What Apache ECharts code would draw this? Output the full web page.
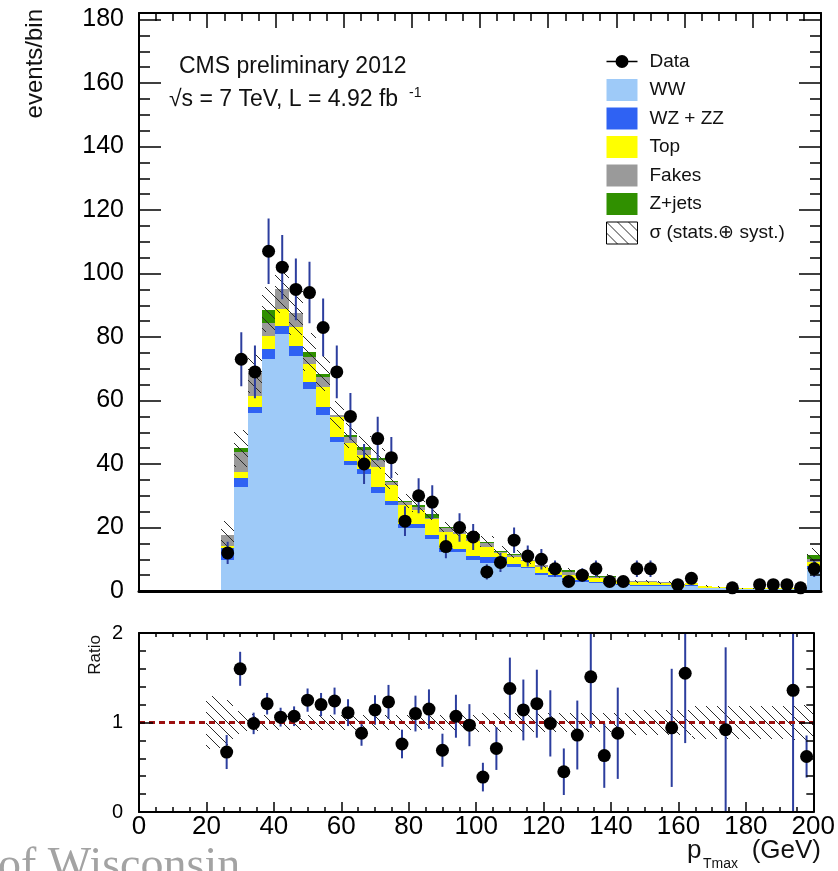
<!DOCTYPE html>
<html>
<head>
<meta charset="utf-8">
<script src="https://cdn.jsdelivr.net/npm/echarts@6/dist/echarts.min.js"></script>
<style>
html,body{margin:0;padding:0;background:#fff;}
#chart{width:838px;height:871px;}
</style>
</head>
<body>
<div id="chart"></div>
<script>
// ---------------- data ----------------
const binCenters = [2,6,10,14,18,22,26,30,34,38,42,46,50,54,58,62,66,70,74,78,82,86,90,94,98,102,106,110,114,118,122,126,130,134,138,142,146,150,154,158,162,166,170,174,178,182,186,190,194,198];
const binWidth = 4;

const ww    = [0,0,0,0,0,0, 9.8,32.7,56.0,73.2,81.1,74.1,63.7,55.5,46.9,39.7,36.9,31.0,27.1,19.8,19.8,16.4,12.4,12.2,9.8,8.8,9.8,7.5,7.2,5.0,4.5,3.5,2.9,2.6,2.2,2.0,1.6,1.5,1.5,1.2,1.5,0.9,0.8,0.7,0.6,0.6,0.5,0.5,0.5,7.0];
const wzzz  = [0,0,0,0,0,0, 3.7,2.8,2.1,3.0,2.3,3.0,2.0,2.6,1.5,1.4,1.6,1.9,1.1,1.2,1.2,1.3,1.1,0.9,1.3,2.0,1.0,1.0,0.5,0.8,0.5,0.5,0.6,0.3,0.4,0.3,0.3,0.4,0.3,0.2,0.3,0.2,0.1,0.1,0.1,0.1,0.1,0.1,0.05,0.9];
const topq  = [0,0,0,0,0,0, 0.7,1.9,3.4,4.0,5.5,6.1,5.9,6.3,6.4,5.5,4.4,6.3,5.2,6.1,4.6,4.9,5.2,4.9,4.5,3.2,1.1,2.3,1.9,1.9,1.1,1.0,1.3,1.1,1.3,0.8,1.0,1.0,0.8,0.6,0.6,0.4,0.3,0.2,0.2,0.2,0.2,0.2,0.2,1.3];
const fakes = [0,0,0,0,0,0, 3.5,6.5,7.2,4.2,6.3,4.4,2.1,3.0,0.7,1.8,1.4,2.0,0.8,0.8,1.0,0.4,1.1,0.7,1.2,1.2,0.5,0.6,0.1,0.5,0.5,1.1,0.8,0.5,0.6,0.3,0.2,0.1,0.1,0.1,0.2,0.1,0.1,0.1,0,0,0,0,0,1.0];
const zjets = [0,0,0,0,0,0, 0,1.1,0,4.2,0,0,1.5,1.1,0,0.6,0.9,0.6,0.6,0.5,0.5,1.3,0.4,0,0.7,0.3,0.3,0.2,0,0.1,0.5,0.5,0.2,0.1,0.2,0,0,0,0,0,0,0,0,0,0,0,0,0,0,1.0];

const dataCounts = [null,null,null,null,null,null, 12,73,69,107,102,95,94,83,69,55,40,48,42,22,30,28,14,20,17,6,9,16,11,10,7,3,5,7,3,3,7,7,null,2,4,null,null,1,null,2,2,2,1,7];
const dataErr    = [null,null,null,null,null,null, 3.5,8.5,8.3,10.3,10.1,9.7,9.7,9.1,8.3,7.4,6.3,6.9,6.5,4.7,5.5,5.3,3.7,4.5,4.1,2.4,3.0,4.0,3.3,3.2,2.6,1.7,2.2,2.6,1.7,1.7,2.6,2.6,null,1.4,2.0,null,null,1.0,null,1.4,1.4,1.4,1.0,2.6];

const ratioVals = [null,null,null,null,null,null, 0.67,1.60,0.99,1.21,1.06,1.07,1.25,1.20,1.24,1.11,0.88,1.14,1.23,0.76,1.10,1.15,0.69,1.07,0.97,0.39,0.71,1.38,1.14,1.21,0.99,0.45,0.86,1.51,0.63,0.88,null,null,null,0.94,1.55,null,null,0.92,null,null,null,null,1.36,0.62];
const ratioErr  = [null,null,null,null,null,null, 0.19,0.19,0.12,0.12,0.105,0.11,0.13,0.13,0.15,0.15,0.14,0.165,0.19,0.16,0.20,0.22,0.185,0.24,0.235,0.16,0.24,0.345,0.34,0.38,0.37,0.26,0.385,0.57,0.36,0.51,null,null,null,0.66,0.78,null,null,0.92,null,null,null,null,1.36,0.235];

// relative MC uncertainty (half width of hatched band)
const relUnc = [null,null,null,null,null, 0.30, 0.25,0.13,0.09,0.08,0.08,0.08,0.08,0.08,0.08,0.08,0.08,0.08,0.08,0.08,0.08,0.08,0.08,0.08,0.08, 0.11,0.11,0.11,0.11,0.11,0.11,0.11,0.11,0.11,0.11,0.11, 0.14,0.14,0.14,0.14,0.14, 0.18,0.18,0.18,0.18,0.18,0.18,0.18, 0.20,0.20];

const yTicksMain = [0,20,40,60,80,100,120,140,160,180];
const yTicksRatio = [0,1,2];
const xTicks = [0,20,40,60,80,100,120,140,160,180,200];

// ---------------- styling ----------------
const FONT = 'Liberation Sans, Arial, Helvetica, sans-serif';
const ERR_BLUE = '#2c3e9e';
const comps = [
  {name:'WW',      vals: ww,    color:'#9ecaf8'},
  {name:'WZ + ZZ', vals: wzzz,  color:'#2f62f3'},
  {name:'Top',     vals: topq,  color:'#ffff00'},
  {name:'Fakes',   vals: fakes, color:'#9a9a9a'},
  {name:'Z+jets',  vals: zjets, color:'#309000'}
];
const BAND_NAME = 'σ (stats.⊕ syst.)';

function makeHatch() {
  const s = 11;
  const c = document.createElement('canvas');
  c.width = s; c.height = s;
  const g = c.getContext('2d');
  g.strokeStyle = '#2a2a2a';
  g.lineWidth = 1;
  g.beginPath();
  [-s, 0, s].forEach(k => { g.moveTo(0, k); g.lineTo(s, s + k); });
  g.stroke();
  return c;
}
const hatch = {image: makeHatch(), repeat: 'repeat'};

function rectRender(fill) {
  return function (params, api) {
    const p0 = api.coord([api.value(0), api.value(2)]);
    const p1 = api.coord([api.value(1), api.value(3)]);
    const x0 = Math.round(p0[0]), x1 = Math.round(p1[0]);
    const yb = Math.round(p0[1]), yt = Math.round(p1[1]);
    return {type:'rect', shape:{x:x0, y:yt, width:x1 - x0, height:yb - yt}, style:{fill: fill}};
  };
}
function errRender(params, api) {
  const x = api.value(0), y = api.value(1), e = api.value(2);
  const a = api.coord([x, y - e]);
  const b = api.coord([x, y + e]);
  return {type:'line', shape:{x1:a[0], y1:a[1], x2:b[0], y2:b[1]}, style:{stroke: ERR_BLUE, lineWidth: 2}};
}

// stacked histogram
const base = binCenters.map(() => 0);
const stackSeries = comps.map(c => {
  const d = [];
  binCenters.forEach((x, i) => {
    const v = c.vals[i];
    if (v > 0) d.push([x - binWidth / 2, x + binWidth / 2, base[i], base[i] + v]);
    base[i] += v;
  });
  return {type:'custom', name:c.name, xAxisIndex:0, yAxisIndex:0, data:d, renderItem: rectRender(c.color),
          itemStyle:{color:c.color}, clip:true, z:2, silent:true};
});
const total = base;

const bandMain = [];
const bandRatio = [];
binCenters.forEach((x, i) => {
  const r = relUnc[i];
  if (r == null) return;
  bandRatio.push([x - binWidth / 2, x + binWidth / 2, 1 - r, 1 + r]);
  if (total[i] > 0) bandMain.push([x - binWidth / 2, x + binWidth / 2, total[i] * (1 - r), total[i] * (1 + r)]);
});

const dataPts = [], dataErrPts = [], ratioPts = [], ratioErrPts = [];
binCenters.forEach((x, i) => {
  if (dataCounts[i] != null) { dataPts.push([x, dataCounts[i]]); dataErrPts.push([x, dataCounts[i], dataErr[i]]); }
  if (ratioVals[i] != null) { ratioPts.push([x, ratioVals[i]]); ratioErrPts.push([x, ratioVals[i], ratioErr[i]]); }
});

const dataIcon = 'path://M0,0 L0.01,0 L0,0.01 Z M31,22 L30.99,22 L31,21.99 Z M0,10.2 L31,10.2 L31,11.8 L0,11.8 Z M22,11 A6.5,6.5 0 1 1 9,11 A6.5,6.5 0 1 1 22,11 Z';

function frameAxis(extra) {
  return Object.assign({
    type:'value', splitLine:{show:false}, axisLabel:{show:false}, axisTick:{show:false},
    axisLine:{show:true, onZero:false, lineStyle:{color:'#000', width:2}}, z:10
  }, extra);
}
const tickStyle = {color:'#000', width:1.5};

const option = {
  animation: false,
  backgroundColor: '#fff',
  textStyle: {fontFamily: FONT},
  grid: [
    {left:139, top:19.5, width:682, height:571.5},
    {left:139, top:13, width:682, height:578},
    {left:139, top:633, width:682, height:179}
  ],
  xAxis: [
    frameAxis({gridIndex:0, min:0, max:200, interval:20, position:'bottom',
      axisLine:{show:true, onZero:false, lineStyle:{color:'#000', width:3}}}),
    frameAxis({gridIndex:1, min:0, max:200, interval:20, position:'top',
      axisTick:{show:true, inside:true, length:15, lineStyle:tickStyle},
      minorTick:{show:true, splitNumber:4, length:8, lineStyle:tickStyle}}),
    frameAxis({gridIndex:2, min:0, max:200, interval:20, position:'bottom',
      axisTick:{show:true, inside:true, length:10, lineStyle:tickStyle},
      minorTick:{show:true, splitNumber:4, length:5, lineStyle:tickStyle},
      axisLabel:{show:true, fontSize:26, margin:2, color:'#000', fontFamily:FONT,
        formatter: v => xTicks.indexOf(v) >= 0 ? String(v) : ''}}),
    frameAxis({gridIndex:2, min:0, max:200, interval:20, position:'top',
      axisTick:{show:true, inside:true, length:7, lineStyle:tickStyle},
      minorTick:{show:true, splitNumber:4, length:4, lineStyle:tickStyle}})
  ],
  yAxis: [
    frameAxis({gridIndex:0, min:0, max:180, interval:20, position:'left',
      axisLine:{show:false, onZero:false},
      axisTick:{show:true, inside:true, length:22, lineStyle:tickStyle},
      minorTick:{show:true, splitNumber:4, length:11, lineStyle:tickStyle},
      axisLabel:{show:true, fontSize:25, margin:15, color:'#000', fontFamily:FONT,
        formatter: v => yTicksMain.indexOf(v) >= 0 ? String(v) : ''}}),
    frameAxis({gridIndex:0, min:0, max:180, interval:20, position:'right',
      axisLine:{show:false, onZero:false},
      axisTick:{show:true, inside:true, length:22, lineStyle:tickStyle},
      minorTick:{show:true, splitNumber:4, length:11, lineStyle:tickStyle}}),
    frameAxis({gridIndex:1, min:0, max:1, position:'left'}),
    frameAxis({gridIndex:1, min:0, max:1, position:'right'}),
    frameAxis({gridIndex:2, min:0, max:2, interval:1, position:'left',
      axisTick:{show:true, inside:true, length:14, lineStyle:tickStyle},
      minorTick:{show:true, splitNumber:5, length:7, lineStyle:tickStyle},
      axisLabel:{show:true, fontSize:20, margin:16, color:'#000', fontFamily:FONT,
        formatter: v => yTicksRatio.indexOf(v) >= 0 ? String(v) : ''}}),
    frameAxis({gridIndex:2, min:0, max:2, interval:1, position:'right',
      axisTick:{show:true, inside:true, length:14, lineStyle:tickStyle},
      minorTick:{show:true, splitNumber:5, length:7, lineStyle:tickStyle}})
  ],
  legend: {
    left: 606, top: 50.5, orient: 'vertical', padding: 0,
    itemWidth: 31, itemHeight: 22, itemGap: 6.5, selectedMode: false,
    textStyle: {fontSize: 19, fontFamily: FONT, color: '#111', padding: [0, 0, 0, 7]},
    data: [
      {name:'Data', icon: dataIcon, itemStyle:{color:'#000', opacity:1}},
      {name:'WW', icon:'rect'},
      {name:'WZ + ZZ', icon:'rect'},
      {name:'Top', icon:'rect'},
      {name:'Fakes', icon:'rect'},
      {name:'Z+jets', icon:'rect'},
      {name: BAND_NAME, icon:'rect', itemStyle:{color: hatch, borderColor:'#000', borderWidth:1}}
    ]
  },
  series: [
    ...stackSeries,
    {type:'custom', name: BAND_NAME, xAxisIndex:0, yAxisIndex:0, data: bandMain, renderItem: rectRender(hatch),
     itemStyle:{color: hatch}, clip:true, z:3, silent:true},
    {type:'custom', name:'dataErr', xAxisIndex:0, yAxisIndex:0, data: dataErrPts, renderItem: errRender, clip:true, z:4, silent:true},
    {type:'scatter', name:'Data', xAxisIndex:0, yAxisIndex:0, data: dataPts, symbol:'circle', symbolSize:13,
     itemStyle:{color:'#000', opacity:1}, z:5, silent:true},
    {type:'custom', name: BAND_NAME, xAxisIndex:2, yAxisIndex:4, data: bandRatio, renderItem: rectRender(hatch),
     itemStyle:{color: hatch}, clip:true, z:3, silent:true,
     markLine:{silent:true, symbol:['none','none'], label:{show:false},
       lineStyle:{color:'#9b1010', width:3, type:[6,4]}, data:[{yAxis:1}]}},
    {type:'custom', name:'ratioErr', xAxisIndex:2, yAxisIndex:4, data: ratioErrPts, renderItem: errRender, clip:true, z:4, silent:true},
    {type:'scatter', name:'Ratio points', xAxisIndex:2, yAxisIndex:4, data: ratioPts, symbol:'circle', symbolSize:13,
     itemStyle:{color:'#000', opacity:1}, z:5, silent:true}
  ],
  graphic: [
    {type:'text', x:179, y:67, style:{text:'CMS preliminary 2012', fontSize:23, fontFamily:FONT, fill:'#111',
      align:'left', verticalAlign:'middle', textAlign:'left', textVerticalAlign:'middle'}},
    {type:'text', x:169, y:99.5, style:{text:'√s = 7 TeV, L = 4.92 fb', fontSize:23, fontFamily:FONT, fill:'#111',
      align:'left', verticalAlign:'middle', textAlign:'left', textVerticalAlign:'middle'}},
    {type:'text', x:409, y:93, style:{text:'-1', fontSize:14, fontFamily:FONT, fill:'#111',
      align:'left', verticalAlign:'middle', textAlign:'left', textVerticalAlign:'middle'}},
    {type:'text', x:35, y:9, rotation: Math.PI / 2, style:{text:'events/bin', fontSize:24, fontFamily:FONT, fill:'#111',
      align:'right', verticalAlign:'middle', textAlign:'right', textVerticalAlign:'middle'}},
    {type:'text', x:95, y:635, rotation: Math.PI / 2, style:{text:'Ratio', fontSize:17, fontFamily:FONT, fill:'#111',
      align:'right', verticalAlign:'middle', textAlign:'right', textVerticalAlign:'middle'}},
    {type:'text', x:821, y:851, style:{text:'(GeV)', fontSize:26, fontFamily:FONT, fill:'#111',
      align:'right', verticalAlign:'middle', textAlign:'right', textVerticalAlign:'middle'}},
    {type:'text', x:687, y:851, style:{text:'p', fontSize:26, fontFamily:FONT, fill:'#111',
      align:'left', verticalAlign:'middle', textAlign:'left', textVerticalAlign:'middle'}},
    {type:'text', x:703, y:864, style:{text:'Tmax', fontSize:14, fontFamily:FONT, fill:'#111',
      align:'left', verticalAlign:'middle', textAlign:'left', textVerticalAlign:'middle'}},
    {type:'text', x:-2, y:867, z:-1, style:{text:'of Wisconsin', fontSize:46, fontFamily:'Liberation Serif, Times New Roman, serif', fill:'#a3a3a3',
      align:'left', verticalAlign:'middle', textAlign:'left', textVerticalAlign:'middle'}}
  ]
};

const chart = echarts.init(document.getElementById('chart'), null, {renderer:'canvas', width:838, height:871});
chart.setOption(option);
</script>
</body>
</html>
